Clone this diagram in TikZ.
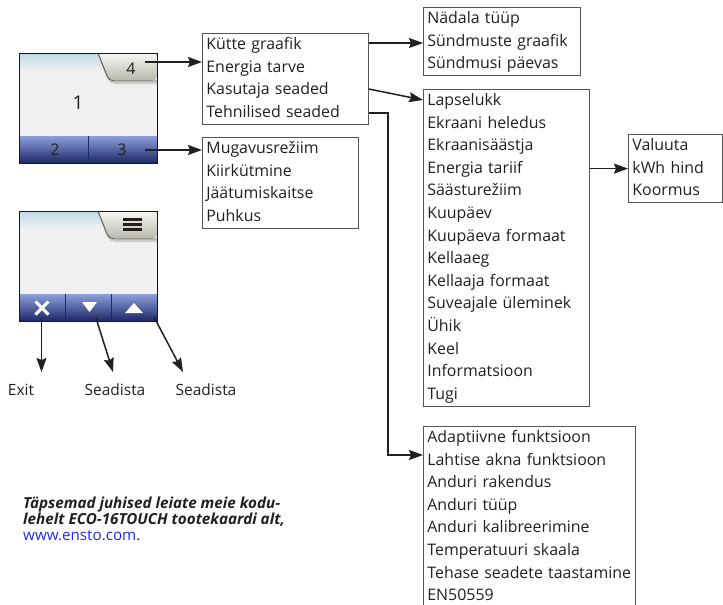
\documentclass[tikz,border=0pt]{standalone}
\usepackage{fontspec}
\setmainfont{Open Sans}
\usetikzlibrary{arrows.meta}
\tikzset{>={Stealth[length=14pt,width=10pt,inset=2pt]}}
\definecolor{txt}{HTML}{231F20}
\definecolor{boxgray}{HTML}{555555}
\definecolor{screen}{HTML}{F0F0F0}
\definecolor{skyblue}{HTML}{BCD9E6}
\definecolor{tabtop}{HTML}{F8F8F4}
\definecolor{tabbot}{HTML}{B8B7AC}
\definecolor{btntop}{HTML}{8DA0DA}
\definecolor{btnbot}{HTML}{1C2766}
\definecolor{linkblue}{HTML}{1F2FE8}
\newcommand{\menulines}[1]{\noindent\begin{tabular}{@{}l@{}}#1\end{tabular}}
\tikzset{
  menu/.style={draw=boxgray, line width=0.8pt, anchor=north west,
    inner xsep=4pt, inner ysep=0.3pt, text=txt,
    font=\fontsize{15.9}{22.6}\selectfont},
  link/.style={->, line width=1.5pt, draw=txt},
  lbl/.style={text=txt, inner sep=0pt, font=\fontsize{15.5}{18}\selectfont},
  key/.style={text=txt, inner sep=0pt, font=\fontsize{16}{18}\selectfont},
  devline/.style={draw=black!90, line width=1pt},
  tabline/.style={draw=black!65, line width=0.9pt, rounded corners=5pt},
  icon/.style={draw=white, line width=3pt},
}
\begin{document}
\begin{tikzpicture}[x=1pt,y=-1pt]
\useasboundingbox (0,0) rectangle (723,605);

% first display
\fill[screen] (19,53) rectangle (157,163);
\shade[top color=skyblue, bottom color=screen] (19,53) rectangle (157,70);
\draw[black!20, line width=2pt, rounded corners=5pt] (99,55) -- (110,83) -- (157,83);
\shade[top color=tabtop, bottom color=tabbot, rounded corners=5pt] (98,53) -- (109,81) -- (157,81) -- (157,53) -- cycle;
\draw[tabline] (98,53) -- (109,81) -- (157,81);
\shade[top color=btntop, bottom color=btnbot] (19,136) rectangle (157,163);
\draw[draw=btnbot, line width=0.8pt] (88,136) -- (88,163);
\draw[devline] (19,53) rectangle (157,163);
\node[key, font=\fontsize{19}{20}\selectfont] (k1) at (78,103) {1};
\node[key] (k2) at (55,150) {2};
\node[key] (k3) at (122,150) {3};
\node[key] (k4) at (131,69) {4};
\coordinate (o4) at (145,62);
\coordinate (o3) at (145,150);

% second display
\fill[screen] (19,211) rectangle (157,321);
\shade[top color=skyblue, bottom color=screen] (19,211) rectangle (157,228);
\draw[black!20, line width=2pt, rounded corners=5pt] (99,213) -- (110,241) -- (157,241);
\shade[top color=tabtop, bottom color=tabbot, rounded corners=5pt] (98,211) -- (109,239) -- (157,239) -- (157,211) -- cycle;
\draw[tabline] (98,211) -- (109,239) -- (157,239);
\foreach \y in {219.5,224.5,229.5}
  \draw[txt, line width=2.2pt] (123,\y) -- (142,\y);
\shade[top color=btntop, bottom color=btnbot] (19,294) rectangle (157,321);
\draw[draw=btnbot, line width=0.8pt] (65,294) -- (65,321) (111,294) -- (111,321);
\draw[devline] (19,211) rectangle (157,321);
\draw[icon] (35.5,301.5) -- (48.5,314.5) (35.5,314.5) -- (48.5,301.5);
\fill[white] (82,302) -- (97,302) -- (89.5,312) -- cycle;
\fill[white] (125,313) -- (143,313) -- (134,303) -- cycle;
\coordinate (bx) at (41.5,318);
\coordinate (bdn) at (96,318);
\coordinate (bup) at (154,317);
\coordinate (tx) at (41.5,372);
\coordinate (tdn) at (113,372);
\coordinate (tup) at (183,372);
\node[lbl] (exit) at (21,390) {Exit};
\node[lbl] (set1) at (115,390) {Seadista};
\node[lbl] (set2) at (206,390) {Seadista};
\draw[link] (bx) -- (tx);
\draw[link] (bdn) -- (tdn);
\draw[link] (bup) -- (tup);

% menus
\node[menu, text width=158pt] (graf) at (202,33) {\menulines{Kütte graafik\\Energia tarve\\Kasutaja seaded\\Tehnilised seaded}};
\node[menu, text width=148pt] (mug) at (202,137) {\menulines{Mugavusrežiim\\Kiirkütmine\\Jäätumiskaitse\\Puhkus}};
\node[menu, text width=149pt] (nad) at (423,7) {\menulines{Nädala tüüp\\Sündmuste graafik\\Sündmusi päevas}};
\node[menu, text width=158pt] (lap) at (423,89) {\menulines{Lapselukk\\Ekraani heledus\\Ekraanisäästja\\Energia tariif\\Säästurežiim\\Kuupäev\\Kuupäeva formaat\\Kellaaeg\\Kellaaja formaat\\Suveajale üleminek\\Ühik\\Keel\\Informatsioon\\Tugi}};
\node[menu, text width=86pt] (val) at (628,134) {\menulines{Valuuta\\kWh hind\\Koormus}};
\node[menu, text width=204pt] (teh) at (423,426) {\menulines{Adaptiivne funktsioon\\Lahtise akna funktsioon\\Anduri rakendus\\Anduri tüüp\\Anduri kalibreerimine\\Temperatuuri skaala\\Tehase seadete taastamine\\EN50559}};

\draw[link] (o4) -- (o4 -| graf.west);
\draw[link] (o3) -- (o3 -| mug.west);
\draw[link] ([yshift=-10pt]graf.north east) -- ([yshift=-10pt]graf.north east -| nad.west);
\draw[link] ([yshift=-56pt]graf.north east) -- ([yshift=-11pt]lap.north west);
\draw[link] ([yshift=-80pt]graf.north east) -| ([xshift=-35pt,yshift=-29pt]teh.north west) -- ([yshift=-29pt]teh.north west);
\draw[link] (val.west -| lap.east) -- (val.west);

% note
\node[anchor=north west, align=left, inner sep=0pt, text=txt,
  font=\fontsize{15.2}{16.3}\selectfont\bfseries\itshape] (note) at (23,494)
  {\rule{0pt}{14pt}Täpsemad juhised leiate meie kodu-\\lehelt ECO-16TOUCH tootekaardi alt,\\{\normalfont\color{linkblue}www.ensto.com}{\normalfont.}};
\end{tikzpicture}
\end{document}
